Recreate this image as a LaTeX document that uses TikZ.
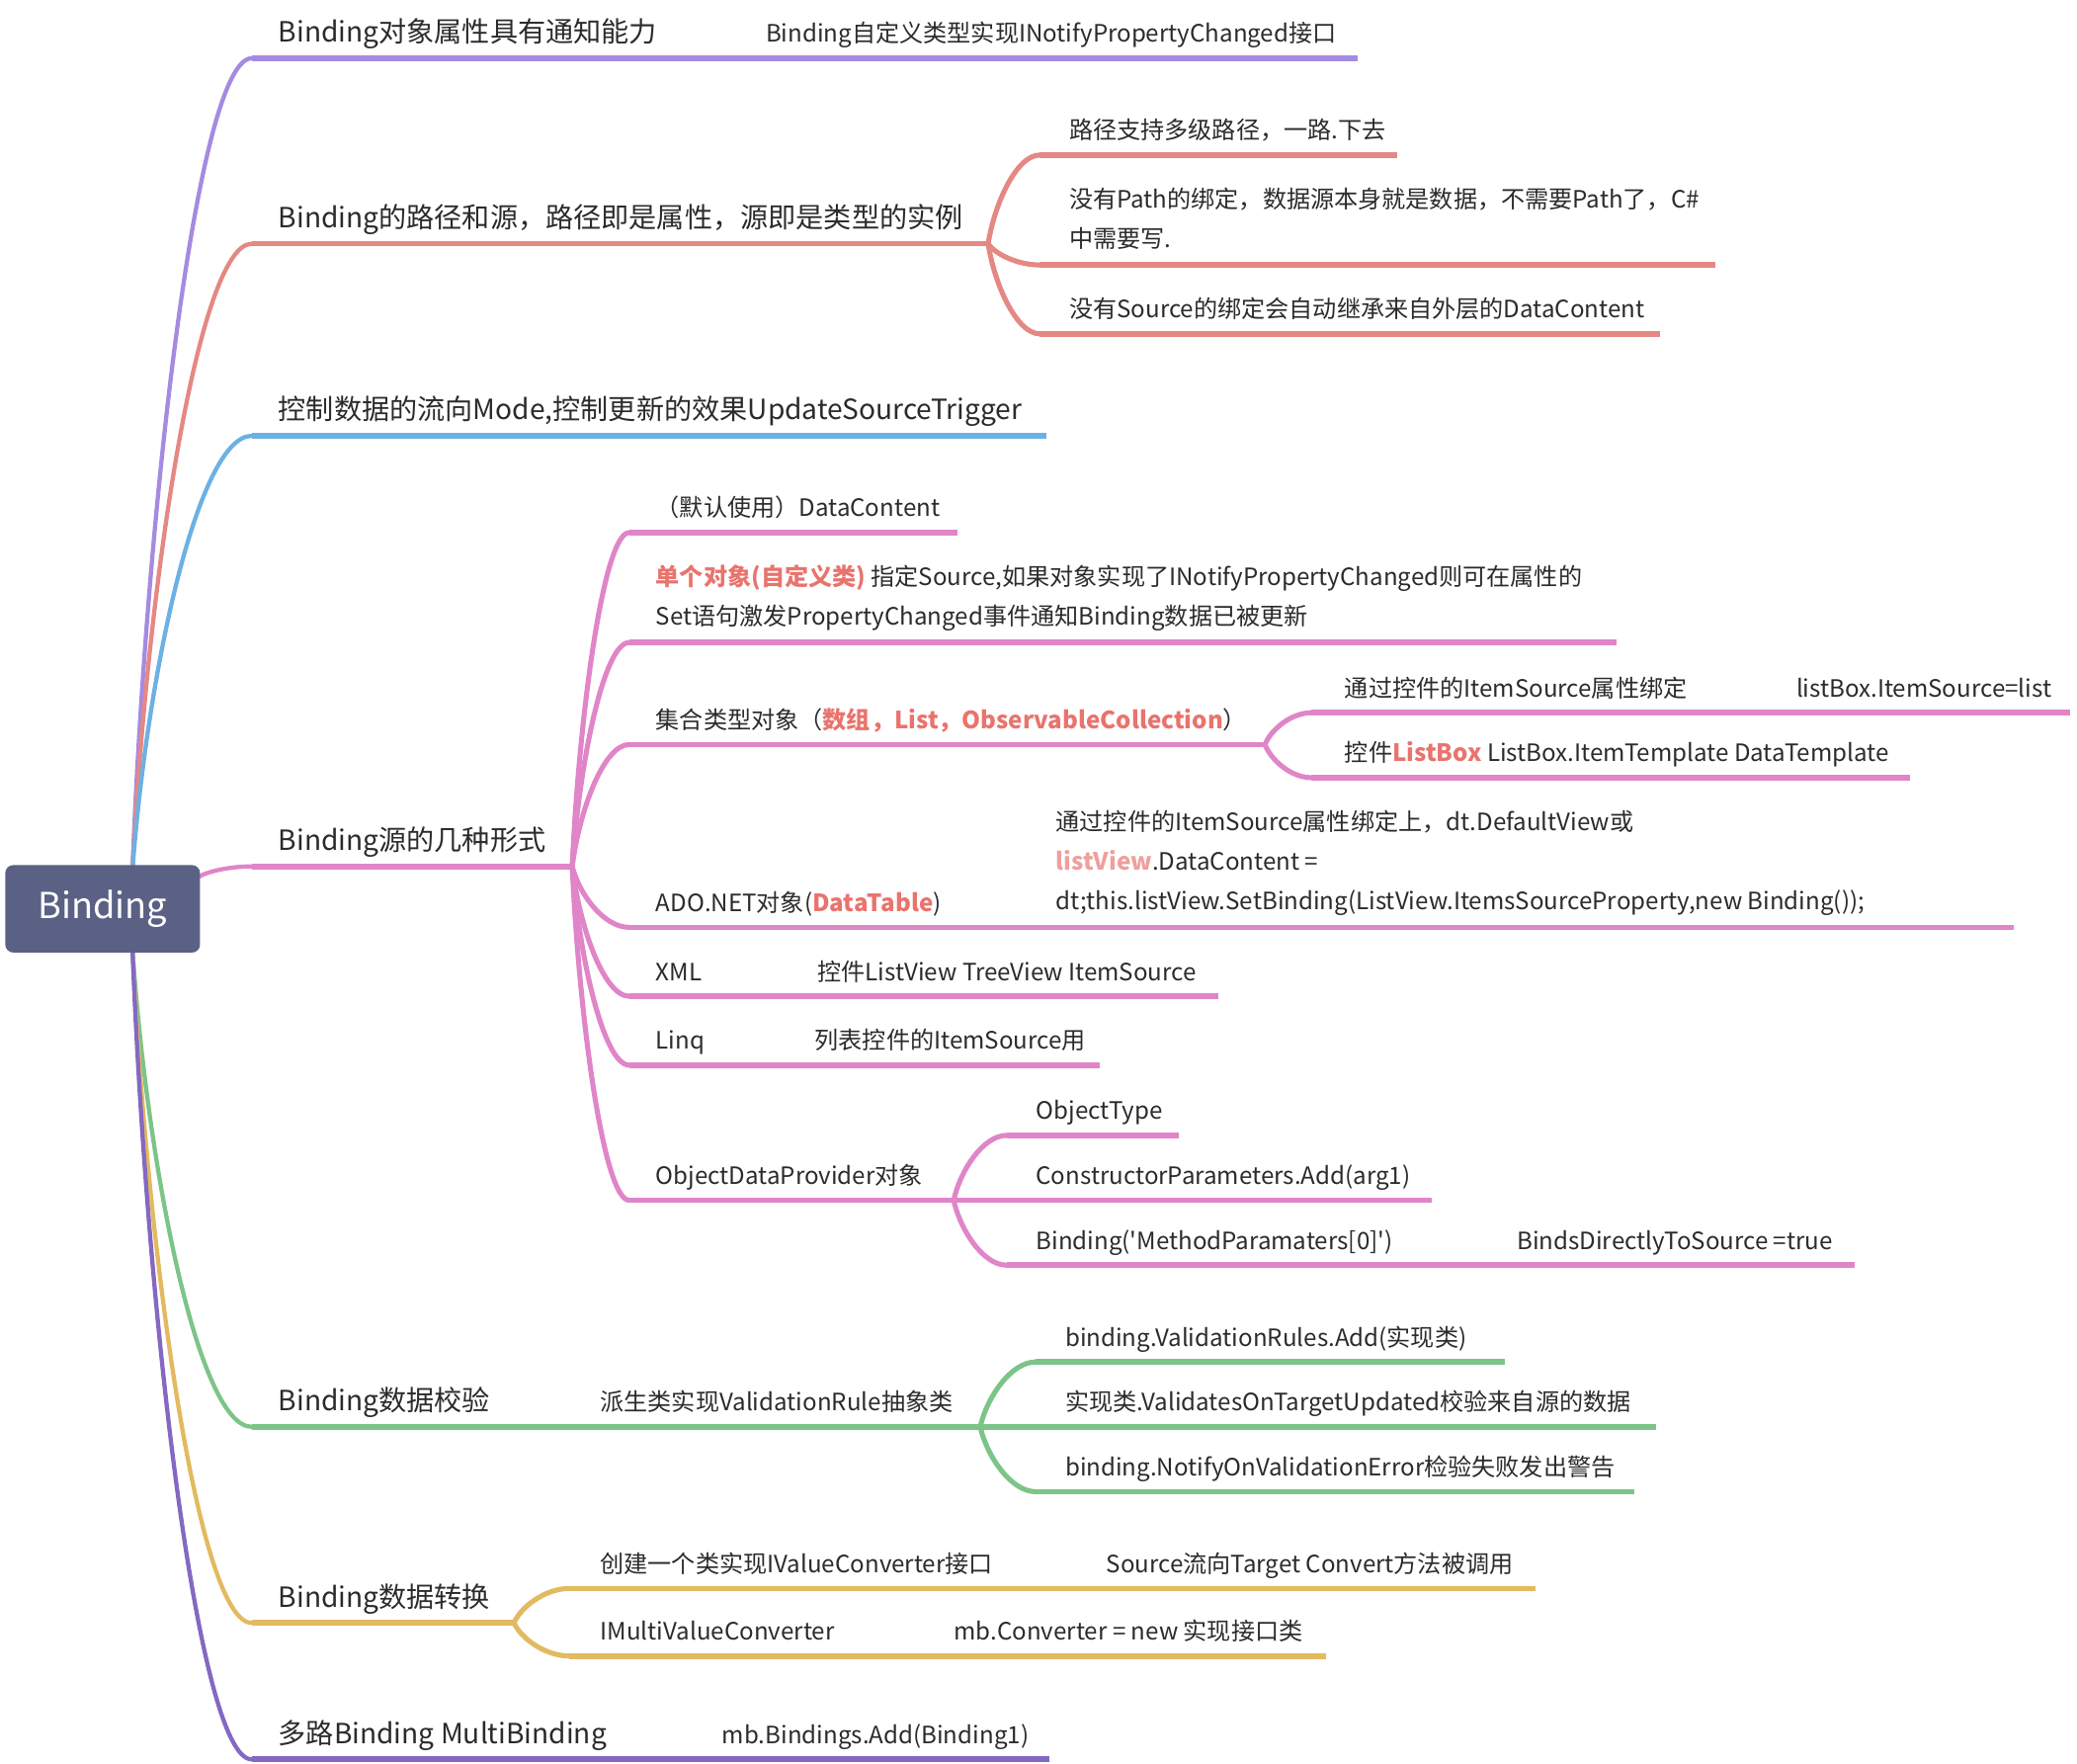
\documentclass[tikz,border=0pt]{standalone}
\usepackage{fontspec}
\newfontfamily\cjk[Ligatures=TeXOff]{Noto Sans CJK SC}
\usetikzlibrary{calc}
\definecolor{pA}{HTML}{A58BE0}
\definecolor{sA}{HTML}{E58883}
\definecolor{bA}{HTML}{6CB1E4}
\definecolor{kA}{HTML}{E085C8}
\definecolor{gA}{HTML}{7CC488}
\definecolor{yA}{HTML}{E2BA60}
\definecolor{qA}{HTML}{8468C2}
\definecolor{rootc}{HTML}{5A6184}
\definecolor{hl}{HTML}{E9736D}
\definecolor{hlb}{HTML}{EF9F9C}
\definecolor{txt}{HTML}{2B2B2B}
\tikzset{
  topic/.style={anchor=base west, inner sep=0pt, text=txt},
  mainf/.style={topic, font=\cjk\fontsize{21}{26}\selectfont},
  subf/.style={topic, font=\cjk\fontsize{18}{30}\selectfont},
  ul/.style={line width=4.2pt},
  mc/.style={line width=3.2pt, line cap=round},
  sc/.style={line width=3.8pt, line cap=round},
  rootbox/.style={draw=none, fill=rootc, rounded corners=6pt, minimum width=147pt, minimum height=66pt, inner sep=0pt, text=white, font=\cjk\fontsize{27}{30}\selectfont},
}
\newcommand\conn[3]{\draw[#1] let \p1=(#2), \p2=(#3) in (\p1) .. controls ({\x1+0.12*(\x2-\x1)},{\y1+0.45*(\y2-\y1)}) and ({\x1+0.55*(\x2-\x1)},\y2) .. (\p2);}
\newcommand\ml[1]{\begin{tabular}[b]{@{}l@{}}#1\end{tabular}}
\newcommand\hot[1]{{\bfseries\color{hl}#1}}
\begin{document}
\begin{tikzpicture}[x=1pt,y=-1pt]
\useasboundingbox (0,0) rectangle (1568,1331);
% root anchors
\coordinate (rT) at (100,657);
\coordinate (rB) at (100,716);
\coordinate (rR) at (150,662);
% ---------- branch 1
\coordinate (a0) at (190,44); \coordinate (a1) at (560,44); \coordinate (a2) at (1025,44);
\node[mainf] (ta) at (210,32) {Binding对象属性具有通知能力};
\node[subf] (ta1) at (578,32) {Binding自定义类型实现INotifyPropertyChanged接口};
\conn{mc,pA}{rT}{a0}
\draw[ul,pA] (a0) -- (a1);
\draw[ul,pA] (a1) -- (a2);
% ---------- branch 2
\coordinate (b0) at (190,184); \coordinate (b1) at (746,184);
\node[mainf] (tb) at (210,172) {Binding的路径和源，路径即是属性，源即是类型的实例};
\conn{mc,sA}{rT}{b0}
\draw[ul,sA] (b0) -- (b1);
\coordinate (b1s) at (785,117); \coordinate (b1e) at (1055,117);
\node[subf] (tb1) at (807,105) {路径支持多级路径，一路.下去};
\coordinate (b2s) at (785,200); \coordinate (b2e) at (1295,200);
\node[subf] (tb2) at (807,187) {\ml{没有Path的绑定，数据源本身就是数据，不需要Path了，C\#\\中需要写.}};
\coordinate (b3s) at (785,252); \coordinate (b3e) at (1253,252);
\node[subf] (tb3) at (807,240) {没有Source的绑定会自动继承来自外层的DataContent};
\foreach \s/\e in {b1s/b1e,b2s/b2e,b3s/b3e}{
  \conn{sc,sA}{b1}{\s}
  \draw[ul,sA] (\s) -- (\e);
}
% ---------- branch 3
\coordinate (c0) at (190,329); \coordinate (c1) at (790,329);
\node[mainf] (tc) at (210,317) {控制数据的流向Mode,控制更新的效果UpdateSourceTrigger};
\conn{mc,bA}{rT}{c0}
\draw[ul,bA] (c0) -- (c1);
% ---------- branch 4
\coordinate (d0) at (190,654); \coordinate (d1) at (432,654);
\node[mainf] (td) at (210,642) {Binding源的几种形式};
\conn{mc,kA}{rR}{d0}
\draw[ul,kA] (d0) -- (d1);
% children
\coordinate (e1s) at (475,402); \coordinate (e1e) at (723,402);
\node[subf] (te1) at (495,390) {（默认使用）DataContent};
\coordinate (e2s) at (475,485); \coordinate (e2e) at (1220,485);
\node[subf] (te2) at (495,472) {\ml{\hot{单个对象(自定义类)} 指定Source,如果对象实现了INotifyPropertyChanged则可在属性的\\Set语句激发PropertyChanged事件通知Binding数据已被更新}};
\coordinate (e3s) at (475,562); \coordinate (e3e) at (955,562);
\node[subf] (te3) at (495,550) {集合类型对象（\hot{数组，List，ObservableCollection}）};
\coordinate (e4s) at (475,700); \coordinate (e4e) at (790,700);
\node[subf] (te4) at (495,688) {ADO.NET对象(\hot{DataTable})};
\coordinate (e5s) at (475,752); \coordinate (e5e) at (600,752);
\node[subf] (te5) at (495,740) {XML};
\coordinate (e6s) at (475,804); \coordinate (e6e) at (600,804);
\node[subf] (te6) at (495,792) {Linq};
\coordinate (e7s) at (475,906); \coordinate (e7e) at (720,906);
\node[subf] (te7) at (495,894) {ObjectDataProvider对象};
\foreach \s/\e in {e1s/e1e,e2s/e2e,e3s/e3e,e4s/e4e,e5s/e5e,e6s/e6e,e7s/e7e}{
  \conn{sc,kA}{d1}{\s}
  \draw[ul,kA] (\s) -- (\e);
}
% collection children
\coordinate (f1s) at (990,538); \coordinate (f1e) at (1290,538); \coordinate (f1f) at (1563,538);
\node[subf] (tf1) at (1015,526) {通过控件的ItemSource属性绑定};
\node[subf] (tf1b) at (1356,526) {listBox.ItemSource=list};
\coordinate (f2s) at (990,587); \coordinate (f2e) at (1442,587);
\node[subf] (tf2) at (1015,575) {控件\hot{ListBox} ListBox.ItemTemplate DataTemplate};
\conn{sc,kA}{e3e}{f1s}
\conn{sc,kA}{e3e}{f2s}
\draw[ul,kA] (f1s) -- (f1e);
\draw[ul,kA] (f1e) -- (f1f);
\draw[ul,kA] (f2s) -- (f2e);
% ADO child
\coordinate (e4f) at (1520,700);
\node[subf] (te4b) at (797,687) {\ml{通过控件的ItemSource属性绑定上，dt.DefaultView或\\{\bfseries\color{hlb}listView}.DataContent =\\dt;this.listView.SetBinding(ListView.ItemsSourceProperty,new Binding());}};
\draw[ul,kA] (e4e) -- (e4f);
% XML / Linq children
\coordinate (e5f) at (920,752);
\node[subf] (te5b) at (617,740) {控件ListView TreeView ItemSource};
\draw[ul,kA] (e5e) -- (e5f);
\coordinate (e6f) at (830,804);
\node[subf] (te6b) at (615,792) {列表控件的ItemSource用};
\draw[ul,kA] (e6e) -- (e6f);
% ObjectDataProvider children
\coordinate (g1s) at (760,857); \coordinate (g1e) at (890,857);
\node[subf] (tg1) at (782,845) {ObjectType};
\coordinate (g2e) at (1081,906);
\node[subf] (tg2) at (782,894) {ConstructorParameters.Add(arg1)};
\coordinate (g3s) at (760,955); \coordinate (g3e) at (1075,955); \coordinate (g3f) at (1400,955);
\node[subf] (tg3) at (782,943) {Binding('MethodParamaters[0]')};
\node[subf] (tg3b) at (1145,943) {BindsDirectlyToSource =true};
\conn{sc,kA}{e7e}{g1s}
\conn{sc,kA}{e7e}{g3s}
\draw[ul,kA] (g1s) -- (g1e);
\draw[ul,kA] (e7e) -- (g2e);
\draw[ul,kA] (g3s) -- (g3e);
\draw[ul,kA] (g3e) -- (g3f);
% ---------- branch 5 (green)
\coordinate (h0) at (190,1077); \coordinate (h1) at (430,1077); \coordinate (h2) at (740,1077);
\node[mainf] (th) at (210,1065) {Binding数据校验};
\node[subf] (th1) at (453,1065) {派生类实现ValidationRule抽象类};
\conn{mc,gA}{rB}{h0}
\draw[ul,gA] (h0) -- (h1);
\draw[ul,gA] (h1) -- (h2);
\coordinate (i1s) at (782,1028); \coordinate (i1e) at (1136,1028);
\node[subf] (ti1) at (804,1016) {binding.ValidationRules.Add(实现类)};
\coordinate (i2e) at (1250,1077);
\node[subf] (ti2) at (804,1065) {实现类.ValidatesOnTargetUpdated校验来自源的数据};
\coordinate (i3s) at (782,1126); \coordinate (i3e) at (1234,1126);
\node[subf] (ti3) at (804,1114) {binding.NotifyOnValidationError检验失败发出警告};
\conn{sc,gA}{h2}{i1s}
\conn{sc,gA}{h2}{i3s}
\draw[ul,gA] (i1s) -- (i1e);
\draw[ul,gA] (h2) -- (i2e);
\draw[ul,gA] (i3s) -- (i3e);
% ---------- branch 6 (yellow)
\coordinate (j0) at (190,1225); \coordinate (j1) at (388,1225);
\node[mainf] (tj) at (210,1213) {Binding数据转换};
\conn{mc,yA}{rB}{j0}
\draw[ul,yA] (j0) -- (j1);
\coordinate (k1s) at (430,1199); \coordinate (k1e) at (800,1199); \coordinate (k1f) at (1159,1199);
\node[subf] (tk1) at (453,1187) {创建一个类实现IValueConverter接口};
\node[subf] (tk1b) at (835,1187) {Source流向Target Convert方法被调用};
\coordinate (k2s) at (430,1250); \coordinate (k2e) at (700,1250); \coordinate (k2f) at (1001,1250);
\node[subf] (tk2) at (453,1238) {IMultiValueConverter};
\node[subf] (tk2b) at (720,1238) {mb.Converter = new 实现接口类};
\conn{sc,yA}{j1}{k1s}
\conn{sc,yA}{j1}{k2s}
\draw[ul,yA] (k1s) -- (k1e);
\draw[ul,yA] (k1e) -- (k1f);
\draw[ul,yA] (k2s) -- (k2e);
\draw[ul,yA] (k2e) -- (k2f);
% ---------- branch 7 (purple)
\coordinate (m0) at (190,1328); \coordinate (m1) at (520,1328); \coordinate (m2) at (792,1328);
\node[mainf] (tm) at (210,1316) {多路Binding MultiBinding};
\node[subf] (tm1) at (545,1316) {mb.Bindings.Add(Binding1)};
\conn{mc,qA}{rB}{m0}
\draw[ul,qA] (m0) -- (m1);
\draw[ul,qA] (m1) -- (m2);
% ---------- root
\node[rootbox] (root) at (77.5,686) {Binding};
\end{tikzpicture}
\end{document}
